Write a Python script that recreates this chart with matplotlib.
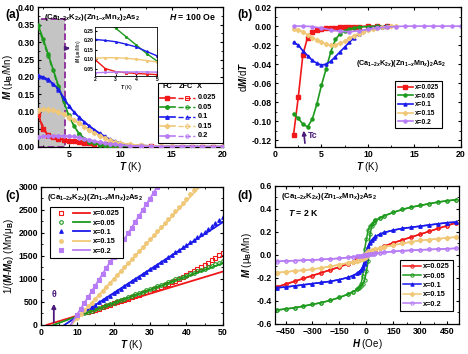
import matplotlib.pyplot as plt
from matplotlib.ticker import AutoMinorLocator, FormatStrFormatter, MultipleLocator
from matplotlib.patches import Rectangle
from matplotlib.legend_handler import HandlerTuple

plt.rcParams['font.family'] = ['Liberation Sans', 'DejaVu Sans']
plt.rcParams['font.weight'] = 'bold'
plt.rcParams['font.size'] = 7
plt.rcParams['mathtext.fontset'] = 'custom'
plt.rcParams['mathtext.rm'] = 'Liberation Sans:bold'
plt.rcParams['mathtext.it'] = 'Liberation Sans:italic:bold'
plt.rcParams['mathtext.bf'] = 'Liberation Sans:bold'
plt.rcParams['axes.linewidth'] = 0.9
plt.rcParams['xtick.direction'] = 'in'
plt.rcParams['ytick.direction'] = 'in'
plt.rcParams['xtick.major.size'] = 2.5
plt.rcParams['ytick.major.size'] = 2.5
plt.rcParams['xtick.minor.size'] = 1.5
plt.rcParams['ytick.minor.size'] = 1.5
plt.rcParams['xtick.major.pad'] = 2
plt.rcParams['ytick.major.pad'] = 2

# 样品与颜色
labels = ['0.025', '0.05', '0.1', '0.15', '0.2']
colors = ['#f01818', '#1e9a1e', '#1a1aeb', '#f0c878', '#b77cf5']
formula = r'(Ca$_{1\mathrm{-}2x}$K$_{2x}$)(Zn$_{1\mathrm{-}x}$Mn$_{x}$)$_2$As$_2$'

# (a) M-T, H = 100 Oe
T_fc = [2, 2.5, 3, 3.5, 4, 4.5, 5, 5.5, 6, 6.5, 7, 7.5, 8, 8.5, 9, 9.5, 10,
        11, 12, 13, 14, 15, 16, 17, 18, 19, 20]
M_fc_0025 = [0.098, 0.050, 0.034, 0.028, 0.024, 0.021, 0.018, 0.016, 0.014, 0.012, 0.010, 0.009, 0.008,
             0.007, 0.006, 0.005, 0.004, 0.003, 0.002, 0.0015, 0.001, 0.001, 0.001, 0.0005, 0.0005, 0.0005, 0.0005]
M_fc_005 = [0.350, 0.310, 0.265, 0.220, 0.175, 0.130, 0.090, 0.060, 0.038, 0.024, 0.015, 0.010, 0.006,
            0.004, 0.003, 0.0025, 0.002, 0.0015, 0.001, 0.001, 0.001, 0.0005, 0.0005, 0.0005, 0.0005, 0.0005, 0.0005]
M_fc_01 = [0.205, 0.200, 0.193, 0.180, 0.165, 0.141, 0.118, 0.100, 0.085, 0.072, 0.060, 0.049, 0.039,
           0.030, 0.022, 0.016, 0.011, 0.006, 0.004, 0.003, 0.002, 0.001, 0.001, 0.001, 0.0005, 0.0005, 0.0005]
M_fc_015 = [0.105, 0.108, 0.108, 0.105, 0.100, 0.093, 0.085, 0.077, 0.068, 0.058, 0.049, 0.040, 0.032,
            0.025, 0.019, 0.014, 0.011, 0.007, 0.005, 0.003, 0.002, 0.002, 0.001, 0.001, 0.001, 0.001, 0.001]
M_fc_02 = [0.028, 0.030, 0.031, 0.032, 0.032, 0.032, 0.031, 0.030, 0.027, 0.024, 0.020, 0.017, 0.014,
           0.011, 0.009, 0.007, 0.005, 0.003, 0.002, 0.0015, 0.001, 0.001, 0.001, 0.001, 0.001, 0.001, 0.001]

T_zfc = [2, 3, 4, 5, 6, 7, 8, 9, 10, 12, 14, 16, 18, 20]
M_zfc_0025 = [0.090, 0.030, 0.022, 0.017, 0.013, 0.010, 0.008, 0.006, 0.004, 0.002, 0.001, 0.001, 0.0005, 0.0005]
M_zfc_005 = [0.345, 0.260, 0.170, 0.088, 0.037, 0.015, 0.006, 0.003, 0.002, 0.001, 0.0005, 0.0005, 0.0005, 0.0005]
M_zfc_01 = [0.200, 0.190, 0.162, 0.116, 0.084, 0.059, 0.038, 0.021, 0.010, 0.004, 0.002, 0.001, 0.0005, 0.0005]
M_zfc_015 = [0.104, 0.107, 0.099, 0.084, 0.067, 0.048, 0.031, 0.018, 0.010, 0.004, 0.002, 0.001, 0.001, 0.001]
M_zfc_02 = [0.027, 0.030, 0.031, 0.030, 0.026, 0.019, 0.013, 0.008, 0.005, 0.002, 0.001, 0.001, 0.001, 0.001]

# (b) dM/dT
T_d_0025 = [2, 2.5, 3, 3.5, 4, 4.5, 5, 5.5, 6, 6.5, 7, 7.5, 8, 8.5, 9, 10, 11, 12]
dM_0025 = [-0.114, -0.075, -0.030, -0.012, -0.006, -0.004, -0.003, -0.002, -0.002, -0.0015, -0.001,
           -0.001, -0.001, -0.0005, -0.0005, 0.0, 0.0, 0.0]
T_d_005 = [2, 2.5, 3, 3.5, 4, 4.5, 5, 5.5, 6, 6.5, 7, 7.5, 8, 8.5, 9, 10, 11, 12]
dM_005 = [-0.092, -0.097, -0.103, -0.106, -0.098, -0.082, -0.062, -0.045, -0.027, -0.014, -0.008,
          -0.005, -0.003, -0.002, -0.001, -0.0005, 0.0, 0.0]
T_d_01 = [2, 2.5, 3, 3.5, 4, 4.5, 5, 5.5, 6, 6.5, 7, 7.5, 8, 8.5, 9, 9.5, 10, 10.5, 11, 11.5, 12]
dM_01 = [-0.017, -0.020, -0.026, -0.031, -0.036, -0.039, -0.041, -0.040, -0.037, -0.032, -0.027,
         -0.022, -0.017, -0.012, -0.008, -0.005, -0.003, -0.002, -0.001, -0.0005, 0.0]
T_d_015 = [2, 2.5, 3, 3.5, 4, 4.5, 5, 5.5, 6, 6.5, 7, 7.5, 8, 8.5, 9, 9.5, 10, 10.5, 11, 11.5, 12, 12.5, 13]
dM_015 = [-0.003, -0.004, -0.006, -0.009, -0.012, -0.015, -0.017, -0.019, -0.020, -0.0195, -0.018,
          -0.016, -0.013, -0.010, -0.008, -0.006, -0.004, -0.003, -0.002, -0.001, -0.0005, 0.0, 0.0]
T_d_02 = [2, 3, 4, 5, 6, 7, 8, 9, 10, 11, 12, 13, 14, 15, 16, 17, 18, 19, 20]
dM_02 = [0.0, 0.0, -0.0005, -0.002, -0.004, -0.0055, -0.006, -0.005, -0.0035, -0.002, -0.001,
         -0.0005, 0.0, 0.0, 0.0, 0.0, 0.0, 0.0, 0.0]

# (c) 1/(M-M0) 数据点与线性拟合
T_c_0025 = list(range(13, 51))
inv_0025 = [280, 305, 330, 357, 384, 412, 441, 470, 496, 522, 548, 575, 602, 629, 656, 684, 712, 740,
            771, 802, 834, 866, 899, 932, 966, 1001, 1040, 1080, 1122, 1165, 1210, 1256, 1303, 1352,
            1403, 1456, 1512, 1570]
T_c_005 = list(range(12, 51))
inv_005 = [250, 280, 310, 340, 368, 397, 427, 456, 486, 515, 545, 574, 604, 633, 663, 692, 722, 752,
           782, 811, 841, 871, 901, 931, 961, 991, 1021, 1048, 1075, 1104, 1133, 1163, 1193, 1223,
           1254, 1285, 1316, 1348, 1380]
T_c_01 = list(range(14, 51))
inv_01 = [390, 440, 490, 540, 590, 640, 690, 741, 792, 843, 895, 947, 999, 1051, 1104, 1157, 1210,
          1262, 1314, 1366, 1418, 1471, 1524, 1577, 1631, 1685, 1740, 1796, 1853, 1911, 1970, 2029,
          2089, 2150, 2212, 2275, 2340]
T_c_015 = list(range(10, 44))
inv_015 = [150, 235, 318, 402, 487, 572, 657, 742, 827, 912, 997, 1082, 1168, 1254, 1340, 1426, 1512,
           1598, 1685, 1772, 1859, 1946, 2034, 2122, 2210, 2299, 2388, 2477, 2567, 2657, 2748, 2839,
           2931, 3023]
T_c_02 = list(range(10, 33))
inv_02 = [227, 353, 479, 605, 731, 857, 983, 1109, 1235, 1361, 1487, 1613, 1739, 1865, 1991, 2117,
          2243, 2369, 2495, 2621, 2747, 2873, 2999]
fit_T = [[1.6, 50], [3.5, 50], [6.5, 50], [8.3, 50], [8.2, 50]]
fit_inv = [[0, 1160], [0, 1340], [0, 2232], [0, 3545], [0, 5267]]

# (d) M-H, T = 2 K, 下降场支路 (上升场支路取反对称)
H = [-500, -450, -400, -350, -300, -250, -200, -150, -100, -75, -50, -40, -30, -20, -10, 0,
     10, 20, 30, 40, 50, 75, 100, 150, 200, 250, 300, 350, 400, 450, 500]
Mh_0025 = [-0.280, -0.255, -0.230, -0.205, -0.180, -0.155, -0.130, -0.105, -0.075, -0.058, -0.040,
           -0.035, -0.028, -0.020, -0.010, 0.005, 0.012, 0.020, 0.030, 0.035, 0.040, 0.058, 0.075,
           0.105, 0.130, 0.155, 0.180, 0.205, 0.230, 0.255, 0.280]
Mh_005 = [-0.480, -0.470, -0.460, -0.445, -0.430, -0.415, -0.395, -0.370, -0.340, -0.320, -0.300,
          -0.280, -0.250, -0.180, 0.050, 0.140, 0.220, 0.250, 0.270, 0.285, 0.300, 0.320, 0.340,
          0.370, 0.395, 0.415, 0.430, 0.445, 0.460, 0.470, 0.480]
Mh_01 = [-0.285, -0.280, -0.270, -0.260, -0.250, -0.240, -0.230, -0.215, -0.195, -0.180, -0.160,
         -0.150, -0.130, -0.100, -0.050, 0.030, 0.080, 0.110, 0.130, 0.145, 0.160, 0.180, 0.195,
         0.215, 0.230, 0.240, 0.250, 0.260, 0.270, 0.280, 0.285]
Mh_015 = [-0.155, -0.148, -0.140, -0.133, -0.125, -0.113, -0.100, -0.085, -0.070, -0.060, -0.050,
          -0.045, -0.038, -0.028, -0.010, 0.020, 0.030, 0.035, 0.040, 0.045, 0.050, 0.060, 0.070,
          0.085, 0.100, 0.113, 0.125, 0.133, 0.140, 0.148, 0.155]
Mh_02 = [-0.058, -0.053, -0.050, -0.047, -0.044, -0.040, -0.035, -0.030, -0.022, -0.018, -0.013,
         -0.010, -0.008, -0.005, -0.002, 0.002, 0.004, 0.006, 0.008, 0.010, 0.013, 0.018, 0.022,
         0.030, 0.035, 0.040, 0.044, 0.047, 0.050, 0.053, 0.056]

fc_list = [M_fc_0025, M_fc_005, M_fc_01, M_fc_015, M_fc_02]
zfc_list = [M_zfc_0025, M_zfc_005, M_zfc_01, M_zfc_015, M_zfc_02]
mk_a = ['s', 'o', '^', 'D', 'o']
TICK = 6.3
FORM = 5.6


def style(ax):
    ax.xaxis.set_minor_locator(AutoMinorLocator(2))
    ax.yaxis.set_minor_locator(AutoMinorLocator(2))
    ax.tick_params(which='both', top=True, right=True, labelsize=TICK)


fig = plt.figure(figsize=(4.68, 3.54), dpi=100)

# ---------------- (a) ----------------
ax = fig.add_axes([0.081, 0.585, 0.3955, 0.395])
ax.add_patch(Rectangle((2, 0), 2.6, 0.365, fc='#c4c4c4', ec='#8b2a9b', ls='--', lw=1.3, zorder=0))
for i in range(5):
    ax.plot(T_fc, fc_list[i], color=colors[i], lw=1.2, marker=mk_a[i], ms=2.2, zorder=3)
    ax.plot(T_zfc, zfc_list[i], color=colors[i], lw=1.0, ls='--', marker=mk_a[i], ms=2.5,
            mfc='none', mew=0.7, zorder=3)
ax.annotate('', xy=(5.4, 0.282), xytext=(4.5, 0.282),
            arrowprops=dict(arrowstyle='-|>', color='#4b1a7a', lw=1.3, mutation_scale=6))
ax.set_xlim(2, 20)
ax.set_ylim(0, 0.40)
ax.xaxis.set_major_locator(MultipleLocator(5))
ax.yaxis.set_major_locator(MultipleLocator(0.05))
ax.yaxis.set_major_formatter(FormatStrFormatter('%.2f'))
style(ax)
ax.set_xlabel(r'$T$ (K)', labelpad=1)
ax.set_ylabel(r'$M$ (μ$_\mathrm{B}$/Mn)', labelpad=2)
ax.text(0.035, 0.965, formula, transform=ax.transAxes, va='top', fontsize=FORM)
ax.text(0.96, 0.965, r'$H$ = 100 Oe', transform=ax.transAxes, va='top', ha='right', fontsize=6.3)
fig.text(0.012, 0.958, '(a)', fontsize=8.5, va='center')

# 手绘图例 FC / ZFC
ax.add_patch(Rectangle((0.65, 0.03), 0.35, 0.427, transform=ax.transAxes, fc='white',
                       ec='black', lw=0.8, zorder=5))
ax.text(0.70, 0.43, 'FC', transform=ax.transAxes, ha='center', va='center', fontsize=5.3, zorder=6)
ax.text(0.80, 0.43, 'ZFC', transform=ax.transAxes, ha='center', va='center', fontsize=5.3, zorder=6)
ax.text(0.875, 0.43, 'X', transform=ax.transAxes, ha='center', va='center', fontsize=5.3, zorder=6)
rows = [0.35, 0.282, 0.214, 0.146, 0.079]
for i in range(5):
    y = rows[i]
    ax.plot([0.66, 0.74], [y, y], transform=ax.transAxes, color=colors[i], lw=1.2, zorder=6)
    ax.plot([0.70], [y], transform=ax.transAxes, color=colors[i], marker=mk_a[i], ms=2.5, zorder=6)
    ax.plot([0.757, 0.849], [y, y], transform=ax.transAxes, color=colors[i], lw=1.0, ls='--', zorder=6)
    ax.plot([0.803], [y], transform=ax.transAxes, color=colors[i], marker=mk_a[i], ms=2.5,
            mfc='none', mew=0.7, zorder=6)
    ax.text(0.865, y, labels[i], transform=ax.transAxes, va='center', fontsize=5.3, zorder=6)

# 插图
ins = fig.add_axes([0.203, 0.785, 0.1325, 0.138])
for i in range(5):
    ins.plot(T_fc, fc_list[i], color=colors[i], lw=1.0, marker=mk_a[i], ms=1.2)
ins.set_xlim(2, 5)
ins.set_ylim(0.01, 0.27)
ins.xaxis.set_major_locator(MultipleLocator(1))
ins.yaxis.set_major_locator(MultipleLocator(0.05))
ins.yaxis.set_major_formatter(FormatStrFormatter('%.2f'))
ins.tick_params(which='both', labelsize=3.6, length=1.5, pad=1)
ins.set_xlabel(r'$T$ (K)', fontsize=3.6, labelpad=0.5)
ins.set_ylabel(r'$M$ (μ$_\mathrm{B}$/Mn)', fontsize=3.4, labelpad=0.5)
for s in ins.spines.values():
    s.set_linewidth(0.6)

# ---------------- (b) ----------------
ax = fig.add_axes([0.5876, 0.585, 0.3974, 0.395])
Tb = [T_d_0025, T_d_005, T_d_01, T_d_015, T_d_02]
Db = [dM_0025, dM_005, dM_01, dM_015, dM_02]
for i in range(5):
    ax.plot(Tb[i], Db[i], color=colors[i], lw=1.2, marker=mk_a[i], ms=2.2, label='x=' + labels[i])
ax.annotate('', xy=(3.05, -0.107), xytext=(3.25, -0.126),
            arrowprops=dict(arrowstyle='-|>', color='#4b1a7a', lw=1.2, mutation_scale=6))
ax.text(3.5, -0.118, 'Tc', color='#4b1a7a', fontsize=6.3)
ax.set_xlim(0, 20)
ax.set_ylim(-0.127, 0.02)
ax.xaxis.set_major_locator(MultipleLocator(5))
ax.yaxis.set_major_locator(MultipleLocator(0.02))
ax.yaxis.set_major_formatter(FormatStrFormatter('%.2f'))
style(ax)
ax.set_xlabel(r'$T$ (K)', labelpad=1)
ax.set_ylabel(r'd$M$/d$T$', labelpad=2)
ax.text(0.68, 0.6, formula, transform=ax.transAxes, ha='center', va='center', fontsize=5.2)
ax.legend(loc='lower left', bbox_to_anchor=(0.63, 0.11), fontsize=4.8, frameon=True, fancybox=False,
          edgecolor='black', framealpha=1, handlelength=2.2, labelspacing=0.25, borderpad=0.4,
          handletextpad=0.3).get_frame().set_linewidth(0.8)
fig.text(0.507, 0.958, '(b)', fontsize=8.5, va='center')

# ---------------- (c) ----------------
ax = fig.add_axes([0.087, 0.082, 0.389, 0.39])
Tc_ = [T_c_0025, T_c_005, T_c_01, T_c_015, T_c_02]
Ic_ = [inv_0025, inv_005, inv_01, inv_015, inv_02]
mk_c = ['s', 'o', '^', 'o', 's']
fill_c = ['none', 'none', None, None, None]
handles = []
for i in range(5):
    p, = ax.plot(Tc_[i], Ic_[i], ls='none', marker=mk_c[i], ms=2.6, color=colors[i],
                 mfc=fill_c[i] if fill_c[i] else colors[i], mew=0.8)
    l, = ax.plot(fit_T[i], fit_inv[i], color=colors[i], lw=1.3)
    handles.append((p, l))
ax.annotate('', xy=(3.6, 520), xytext=(3.6, 0),
            arrowprops=dict(arrowstyle='-|>', color='#4b1a7a', lw=1.3, mutation_scale=6))
ax.text(3.6, 560, 'θ', color='#4b1a7a', ha='center', va='bottom', fontsize=6.3)
ax.set_xlim(0, 50)
ax.set_ylim(0, 3000)
ax.xaxis.set_major_locator(MultipleLocator(10))
ax.yaxis.set_major_locator(MultipleLocator(500))
style(ax)
ax.set_xlabel(r'$T$ (K)', labelpad=1)
ax.set_ylabel(r'1/($M$-$M_0$) (Mn/μ$_\mathrm{B}$)', labelpad=2)
ax.text(0.035, 0.965, formula, transform=ax.transAxes, va='top', fontsize=FORM)
ax.legend(handles, ['x=' + s for s in labels], handler_map={tuple: HandlerTuple(ndivide=2, pad=0.6)},
          loc='upper left', bbox_to_anchor=(0.03, 0.88), fontsize=5.3, frameon=True, fancybox=False,
          edgecolor='black', framealpha=1, handlelength=5, labelspacing=0.3, borderpad=0.4,
          handletextpad=0.5).get_frame().set_linewidth(0.8)
fig.text(0.012, 0.447, '(c)', fontsize=8.5, va='center')

# ---------------- (d) ----------------
ax = fig.add_axes([0.587, 0.085, 0.394, 0.39])
Mh = [Mh_0025, Mh_005, Mh_01, Mh_015, Mh_02]
mk_d = ['o', 'o', '^', 'D', 'o']
fill_d = ['none', 'none', None, None, 'none']
H_up = [-h for h in H[::-1]]
for i in range(5):
    mf = fill_d[i] if fill_d[i] else colors[i]
    ax.plot(H, Mh[i], color=colors[i], lw=1.1, marker=mk_d[i], ms=2.4, mfc=mf, mew=0.7,
            label='x=' + labels[i])
    ax.plot(H_up, [-m for m in Mh[i][::-1]], color=colors[i], lw=1.1, marker=mk_d[i], ms=2.4,
            mfc=mf, mew=0.7)
ax.set_xlim(-510, 515)
ax.set_ylim(-0.6, 0.6)
ax.xaxis.set_major_locator(MultipleLocator(150))
ax.yaxis.set_major_locator(MultipleLocator(0.2))
ax.yaxis.set_major_formatter(FormatStrFormatter('%.1f'))
style(ax)
ax.set_xlabel(r'$H$ (Oe)', labelpad=1)
ax.set_ylabel(r'$M$ (μ$_\mathrm{B}$/Mn)', labelpad=2)
ax.text(0.035, 0.965, formula, transform=ax.transAxes, va='top', fontsize=FORM)
ax.text(0.07, 0.8, r'$T$ = 2 K', transform=ax.transAxes, va='center', fontsize=6.3)
ax.legend(loc='lower left', bbox_to_anchor=(0.66, 0.07), fontsize=5.3, frameon=True, fancybox=False,
          edgecolor='black', framealpha=1, handlelength=2.4, labelspacing=0.3, borderpad=0.4,
          handletextpad=0.3).get_frame().set_linewidth(0.8)
fig.text(0.507, 0.447, '(d)', fontsize=8.5, va='center')

plt.savefig('out.png', dpi=100)
